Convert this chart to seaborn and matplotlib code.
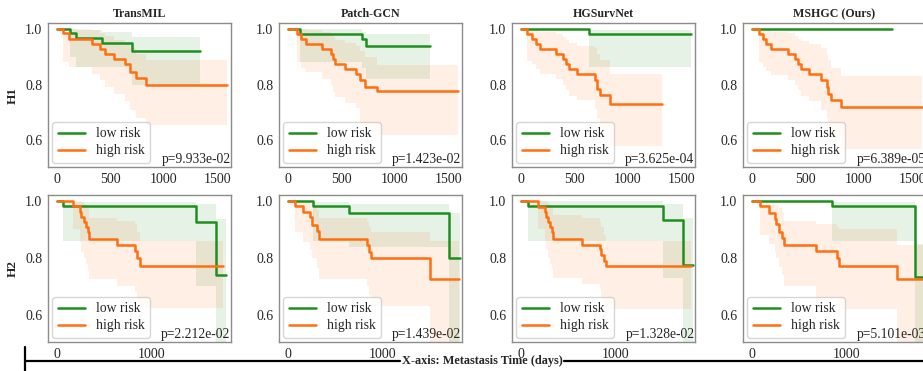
import numpy as np
import pandas as pd
import seaborn as sns
import matplotlib
matplotlib.use('Agg')
import matplotlib.pyplot as plt
from matplotlib.lines import Line2D

# Kaplan-Meier curves: times (days), survival, CI lower / upper
# ---- H1 ----
transmil_h1_low_t = [0, 125, 180, 420, 700, 1335]
transmil_h1_low_s = [1, .985, .966, .948, .921, .921]
transmil_h1_low_lo = [1, .90, .865, .865, .80, .80]
transmil_h1_low_hi = [1, 1.0, .995, .99, .97, .97]
transmil_h1_high_t = [0, 55, 110, 330, 400, 445, 530, 640, 680, 735, 830, 1585]
transmil_h1_high_s = [1, .985, .962, .945, .927, .909, .891, .874, .847, .824, .80, .80]
transmil_h1_high_lo = [1, .88, .865, .84, .815, .79, .765, .74, .71, .68, .655, .655]
transmil_h1_high_hi = [1, 1.0, 1.0, .995, .985, .975, .96, .95, .93, .91, .89, .89]

patchgcn_h1_low_t = [0, 110, 690, 730, 1330]
patchgcn_h1_low_s = [1, .983, .962, .939, .939]
patchgcn_h1_low_lo = [1, .88, .86, .82, .82]
patchgcn_h1_low_hi = [1, 1.0, .99, .98, .98]
patchgcn_h1_high_t = [0, 80, 125, 170, 315, 400, 425, 440, 530, 640, 670, 720, 830, 1590]
patchgcn_h1_high_s = [1, .98, .962, .945, .927, .909, .891, .874, .856, .838, .815, .79, .776, .776]
patchgcn_h1_high_lo = [1, .88, .86, .845, .82, .80, .775, .755, .735, .715, .66, .63, .62, .62]
patchgcn_h1_high_hi = [1, 1, 1, .995, .99, .98, .97, .96, .95, .94, .92, .90, .87, .87]

hgsurv_h1_low_t = [0, 640, 1585]
hgsurv_h1_low_s = [1, .981, .981]
hgsurv_h1_low_lo = [1, .864, .864]
hgsurv_h1_low_hi = [1, .995, .995]
hgsurv_h1_high_t = [0, 59, 106, 138, 178, 328, 397, 419, 444, 522, 694, 709, 741, 828, 1319]
hgsurv_h1_high_s = [1, .981, .963, .946, .927, .909, .891, .874, .856, .838, .815, .785, .762, .732, .732]
hgsurv_h1_high_lo = [1, .885, .874, .856, .84, .82, .80, .78, .76, .744, .714, .68, .64, .58, .58]
hgsurv_h1_high_hi = [1, 1, 1, .995, .99, .98, .97, .96, .95, .94, .93, .91, .89, .84, .84]

mshgc_h1_low_t = [0, 1306]
mshgc_h1_low_s = [1, 1]
mshgc_h1_low_lo = [1, 1]
mshgc_h1_low_hi = [1, 1]
mshgc_h1_high_t = [0, 66, 103, 134, 175, 338, 406, 431, 456, 531, 644, 697, 712, 738, 831, 1587]
mshgc_h1_high_s = [1, .981, .963, .946, .929, .909, .891, .874, .856, .838, .815, .791, .768, .746, .72, .72]
mshgc_h1_high_lo = [1, .88, .865, .85, .835, .815, .80, .78, .76, .74, .71, .68, .64, .61, .57, .57]
mshgc_h1_high_hi = [1, 1, 1, .995, .99, .985, .975, .965, .955, .945, .93, .91, .89, .86, .83, .83]

# ---- H2 ----
transmil_h2_low_t = [0, 63, 1467, 1677, 1783]
transmil_h2_low_s = [1, .981, .926, .741, .741]
transmil_h2_low_lo = [1, .86, .70, .45, .45]
transmil_h2_low_hi = [1, .996, .99, .938, .938]
transmil_h2_high_t = [0, 168, 239, 253, 281, 309, 323, 333, 632, 825, 842, 870, 1747]
transmil_h2_high_s = [1, .981, .961, .944, .926, .908, .891, .867, .844, .826, .80, .773, .773]
transmil_h2_high_lo = [1, .90, .855, .82, .80, .78, .755, .726, .70, .68, .65, .626, .626]
transmil_h2_high_hi = [1, 1, 1, .995, .99, .985, .975, .94, .93, .92, .89, .86, .86]

patchgcn_h2_low_t = [0, 268, 643, 1696, 1814]
patchgcn_h2_low_s = [1, .981, .958, .799, .799]
patchgcn_h2_low_lo = [1, .86, .84, .45, .45]
patchgcn_h2_low_hi = [1, .998, .99, .958, .958]
patchgcn_h2_high_t = [0, 71, 161, 232, 250, 304, 321, 832, 857, 875, 1500, 1803]
patchgcn_h2_high_s = [1, .981, .961, .944, .914, .896, .867, .844, .82, .80, .726, .726]
patchgcn_h2_high_lo = [1, .89, .855, .83, .80, .765, .725, .70, .67, .63, .48, .48]
patchgcn_h2_high_hi = [1, 1, .998, .99, .98, .97, .94, .93, .91, .89, .86, .86]

hgsurv_h2_low_t = [0, 71, 1496, 1703, 1810]
hgsurv_h2_low_s = [1, .981, .932, .776, .776]
hgsurv_h2_low_lo = [1, .86, .73, .45, .45]
hgsurv_h2_low_hi = [1, 1.0, .99, .94, .94]
hgsurv_h2_high_t = [0, 179, 250, 264, 286, 300, 321, 336, 643, 829, 846, 871, 893, 1786]
hgsurv_h2_high_s = [1, .98, .962, .944, .926, .909, .891, .867, .847, .83, .81, .79, .773, .773]
hgsurv_h2_high_lo = [1, .90, .86, .83, .80, .78, .76, .73, .71, .69, .66, .64, .62, .62]
hgsurv_h2_high_hi = [1, 1, 1, .995, .99, .985, .975, .95, .94, .93, .91, .88, .86, .86]

mshgc_h2_low_t = [0, 839, 1714, 1829]
mshgc_h2_low_s = [1, .981, .734, .734]
mshgc_h2_low_lo = [1, .86, .45, .45]
mshgc_h2_low_hi = [1, .995, .85, .85]
mshgc_h2_high_t = [0, 84, 183, 242, 256, 286, 315, 341, 670, 890, 916, 1531, 1853]
mshgc_h2_high_s = [1, .981, .958, .938, .92, .891, .87, .847, .824, .80, .773, .726, .726]
mshgc_h2_high_lo = [1, .88, .85, .82, .80, .77, .74, .70, .66, .64, .62, .48, .48]
mshgc_h2_high_hi = [1, 1, 1, .99, .985, .975, .96, .93, .92, .91, .90, .847, .847]

methods = ['TransMIL', 'Patch-GCN', 'HGSurvNet', 'MSHGC (Ours)']
rows = ['H1', 'H2']
p_values = [['p=9.933e-02', 'p=1.423e-02', 'p=3.625e-04', 'p=6.389e-05'],
            ['p=2.212e-02', 'p=1.439e-02', 'p=1.328e-02', 'p=5.101e-03']]

curves = [
    [((transmil_h1_low_t, transmil_h1_low_s, transmil_h1_low_lo, transmil_h1_low_hi),
      (transmil_h1_high_t, transmil_h1_high_s, transmil_h1_high_lo, transmil_h1_high_hi)),
     ((patchgcn_h1_low_t, patchgcn_h1_low_s, patchgcn_h1_low_lo, patchgcn_h1_low_hi),
      (patchgcn_h1_high_t, patchgcn_h1_high_s, patchgcn_h1_high_lo, patchgcn_h1_high_hi)),
     ((hgsurv_h1_low_t, hgsurv_h1_low_s, hgsurv_h1_low_lo, hgsurv_h1_low_hi),
      (hgsurv_h1_high_t, hgsurv_h1_high_s, hgsurv_h1_high_lo, hgsurv_h1_high_hi)),
     ((mshgc_h1_low_t, mshgc_h1_low_s, mshgc_h1_low_lo, mshgc_h1_low_hi),
      (mshgc_h1_high_t, mshgc_h1_high_s, mshgc_h1_high_lo, mshgc_h1_high_hi))],
    [((transmil_h2_low_t, transmil_h2_low_s, transmil_h2_low_lo, transmil_h2_low_hi),
      (transmil_h2_high_t, transmil_h2_high_s, transmil_h2_high_lo, transmil_h2_high_hi)),
     ((patchgcn_h2_low_t, patchgcn_h2_low_s, patchgcn_h2_low_lo, patchgcn_h2_low_hi),
      (patchgcn_h2_high_t, patchgcn_h2_high_s, patchgcn_h2_high_lo, patchgcn_h2_high_hi)),
     ((hgsurv_h2_low_t, hgsurv_h2_low_s, hgsurv_h2_low_lo, hgsurv_h2_low_hi),
      (hgsurv_h2_high_t, hgsurv_h2_high_s, hgsurv_h2_high_lo, hgsurv_h2_high_hi)),
     ((mshgc_h2_low_t, mshgc_h2_low_s, mshgc_h2_low_lo, mshgc_h2_low_hi),
      (mshgc_h2_high_t, mshgc_h2_high_s, mshgc_h2_high_lo, mshgc_h2_high_hi))],
]

row_xticks = [[0, 500, 1000, 1500], [0, 1000]]
row_xlim = [(-84, 1626), (-95, 1832)]
group_names = ['low risk', 'high risk']
group_colors = ['#1e8f1e', '#ff6f0f']

sns.set_theme(style='white')
plt.rcParams['font.family'] = ['Liberation Serif', 'DejaVu Serif']

W, H = 923, 371
fig = plt.figure(figsize=(W / 100, H / 100), dpi=100)

col_left = [48, 279, 512, 743]
col_width = 183
row_top = [23, 195]
row_bottom = [167, 342]

for r in range(2):
    for c in range(4):
        ax = fig.add_axes([col_left[c] / W, 1 - row_bottom[r] / H,
                           col_width / W, (row_bottom[r] - row_top[r]) / H])
        for g in range(2):
            t, s, lo, hi = curves[r][c][g]
            df = pd.DataFrame({'time': t, 'surv': s})
            ax.fill_between(t, lo, hi, step='post', color=group_colors[g],
                            alpha=0.11, lw=0)
            sns.lineplot(data=df, x='time', y='surv', drawstyle='steps-post',
                         color=group_colors[g], lw=1.8, label=group_names[g],
                         errorbar=None, ax=ax)
        ax.set_xlim(row_xlim[r])
        ax.set_ylim(0.505, 1.021)
        ax.set_xticks(row_xticks[r])
        ax.set_yticks([0.6, 0.8, 1.0])
        ax.set_xlabel('')
        ax.set_ylabel(rows[r] if c == 0 else '', fontsize=9.5, fontweight='bold',
                      labelpad=5)
        ax.tick_params(labelsize=10, length=2, color='0.5', pad=2)
        for sp in ax.spines.values():
            sp.set_color('0.55')
            sp.set_linewidth(1.0)
        if r == 0:
            ax.set_title(methods[c], fontsize=8.6, fontweight='bold', pad=4)
        ax.legend(loc='lower left', fontsize=9.8, frameon=True,
                  handlelength=2.0, borderaxespad=0.3, labelspacing=0.3)
        ax.text(0.997, 0.005, p_values[r][c], transform=ax.transAxes,
                ha='right', va='bottom', fontsize=9.8)

# bottom bracket with the shared x-axis caption
y_line = 1 - 361 / H
fig.add_artist(Line2D([25 / W, 400 / W], [y_line, y_line], color='black', lw=1.6))
fig.add_artist(Line2D([564 / W, 1.0], [y_line, y_line], color='black', lw=1.6))
fig.add_artist(Line2D([25 / W, 25 / W], [1 - 347 / H, 0], color='black', lw=1.6))
fig.text(482 / W, 1 - 361 / H, 'X-axis: Metastasis Time (days)', ha='center',
         va='center', fontsize=8.8, fontweight='bold')

fig.savefig('out.png', dpi=100)
